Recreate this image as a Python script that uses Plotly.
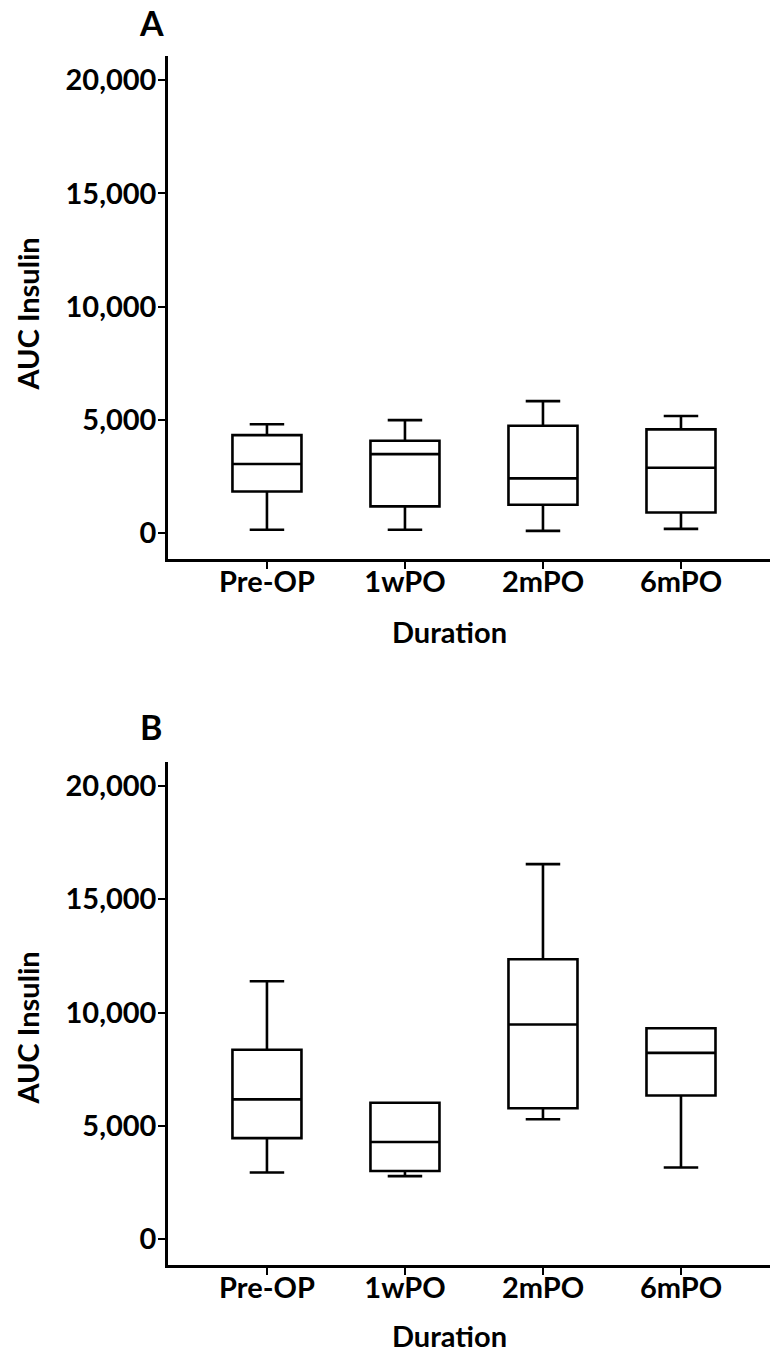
import plotly.graph_objects as go
from plotly.subplots import make_subplots

categories = ["Pre-OP", "1wPO", "2mPO", "6mPO"]

# Panel A: AUC insulin box statistics
a_lower = [150, 150, 100, 190]
a_q1 = [1840, 1180, 1250, 910]
a_median = [3050, 3490, 2420, 2890]
a_q3 = [4330, 4080, 4740, 4580]
a_upper = [4810, 4990, 5830, 5170]

# Panel B: AUC insulin box statistics
b_lower = [2940, 2780, 5290, 3160]
b_q1 = [4460, 3010, 5780, 6340]
b_median = [6170, 4290, 9470, 8220]
b_q3 = [8360, 6020, 12350, 9310]
b_upper = [11380, 6020, 16550, 9310]

y_ticks = [0, 5000, 10000, 15000, 20000]

FONT = "Lato"
fig = make_subplots(rows=2, cols=1, vertical_spacing=0.0)

def add_box(row, lo, q1, med, q3, up):
    fig.add_trace(go.Box(
        x=categories, q1=q1, median=med, q3=q3,
        lowerfence=lo, upperfence=up,
        boxpoints=False, width=0.5, whiskerwidth=0.5,
        fillcolor="white",
        line=dict(color="black", width=2.6),
        showlegend=False, hoverinfo="skip",
    ), row=row, col=1)

add_box(1, a_lower, a_q1, a_median, a_q3, a_upper)
add_box(2, b_lower, b_q1, b_median, b_q3, b_upper)

axis_common = dict(
    showline=True, linecolor="black", linewidth=2.6,
    ticks="outside", ticklen=7, tickwidth=2.4, tickcolor="black",
    showgrid=False, zeroline=False,
    tickfont=dict(family=FONT, size=29, color="black", weight="bold"),
)

fig.update_xaxes(**axis_common, type="category", categoryorder="array",
                 categoryarray=categories, range=[-0.717, 3.645],
                 ticklabelstandoff=-12)
fig.update_yaxes(**axis_common, range=[-1140, 21070], tickvals=y_ticks,
                 tickformat=",d", ticklabelstandoff=-4)

fig.update_layout(
    xaxis=dict(domain=[0, 1]), yaxis=dict(domain=[0.584, 1.0]),
    xaxis2=dict(domain=[0, 1]), yaxis2=dict(domain=[0.0, 0.4163]),
)

title_font = dict(family=FONT, size=29, color="black", weight="bold")
letter_font = dict(family=FONT, size=34, color="black", weight="bold")

annotations = [
    dict(text="A", x=-0.0266, y=1.0277, font=letter_font),
    dict(text="B", x=-0.0282, y=0.445, font=letter_font),
    dict(text="AUC Insulin", x=-0.2334, y=0.7866, textangle=-90, font=title_font),
    dict(text="AUC Insulin", x=-0.2334, y=0.196, textangle=-90, font=title_font),
    dict(text="Duration", x=0.4684, y=0.5236, font=title_font),
    dict(text="Duration", x=0.4684, y=-0.0579, font=title_font),
]
for a in annotations:
    a.update(xref="paper", yref="paper", xanchor="center", yanchor="middle",
             showarrow=False)
fig.update_layout(annotations=annotations)

fig.update_layout(
    width=770, height=1352,
    margin=dict(l=168, r=0, t=56, b=87),
    paper_bgcolor="white", plot_bgcolor="white",
)

fig.write_html("out.html",
               config={"displayModeBar": False},
               post_script="document.body.style.margin='0';")
